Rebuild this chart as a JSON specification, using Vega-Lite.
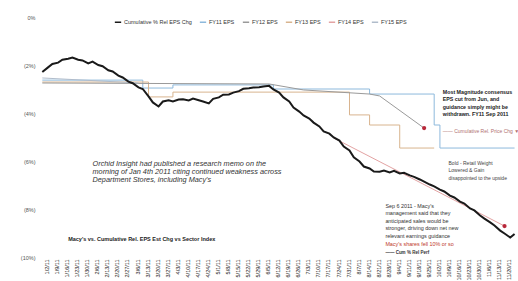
{
  "$schema": "https://vega.github.io/schema/vega-lite/v6.json",
  "width": 478,
  "height": 240,
  "autosize": {"type": "none"},
  "padding": {"left": 38, "top": 17, "right": 2, "bottom": 24},
  "background": "white",
  "config": {
    "view": {"stroke": null},
    "font": "Liberation Sans"
  },
  "datasets": {
    "series": [
      {"date": "2010-12-30", "series": "Cumulative % Rel EPS Chg", "v": -2.29},
      {"date": "2011-01-03", "series": "Cumulative % Rel EPS Chg", "v": -2.10},
      {"date": "2011-01-06", "series": "Cumulative % Rel EPS Chg", "v": -1.96},
      {"date": "2011-01-10", "series": "Cumulative % Rel EPS Chg", "v": -1.90},
      {"date": "2011-01-13", "series": "Cumulative % Rel EPS Chg", "v": -1.78},
      {"date": "2011-01-17", "series": "Cumulative % Rel EPS Chg", "v": -1.74},
      {"date": "2011-01-20", "series": "Cumulative % Rel EPS Chg", "v": -1.69},
      {"date": "2011-01-24", "series": "Cumulative % Rel EPS Chg", "v": -1.78},
      {"date": "2011-01-27", "series": "Cumulative % Rel EPS Chg", "v": -1.81},
      {"date": "2011-01-31", "series": "Cumulative % Rel EPS Chg", "v": -1.93},
      {"date": "2011-02-03", "series": "Cumulative % Rel EPS Chg", "v": -1.86},
      {"date": "2011-02-07", "series": "Cumulative % Rel EPS Chg", "v": -2.00},
      {"date": "2011-02-10", "series": "Cumulative % Rel EPS Chg", "v": -2.05},
      {"date": "2011-02-14", "series": "Cumulative % Rel EPS Chg", "v": -2.22},
      {"date": "2011-02-17", "series": "Cumulative % Rel EPS Chg", "v": -2.27},
      {"date": "2011-02-21", "series": "Cumulative % Rel EPS Chg", "v": -2.44},
      {"date": "2011-02-24", "series": "Cumulative % Rel EPS Chg", "v": -2.52},
      {"date": "2011-02-28", "series": "Cumulative % Rel EPS Chg", "v": -2.69},
      {"date": "2011-03-03", "series": "Cumulative % Rel EPS Chg", "v": -2.76},
      {"date": "2011-03-07", "series": "Cumulative % Rel EPS Chg", "v": -2.93},
      {"date": "2011-03-10", "series": "Cumulative % Rel EPS Chg", "v": -3.00},
      {"date": "2011-03-14", "series": "Cumulative % Rel EPS Chg", "v": -3.31},
      {"date": "2011-03-17", "series": "Cumulative % Rel EPS Chg", "v": -3.56},
      {"date": "2011-03-21", "series": "Cumulative % Rel EPS Chg", "v": -3.73},
      {"date": "2011-03-24", "series": "Cumulative % Rel EPS Chg", "v": -3.52},
      {"date": "2011-03-28", "series": "Cumulative % Rel EPS Chg", "v": -3.47},
      {"date": "2011-03-31", "series": "Cumulative % Rel EPS Chg", "v": -3.52},
      {"date": "2011-04-04", "series": "Cumulative % Rel EPS Chg", "v": -3.44},
      {"date": "2011-04-07", "series": "Cumulative % Rel EPS Chg", "v": -3.43},
      {"date": "2011-04-11", "series": "Cumulative % Rel EPS Chg", "v": -3.48},
      {"date": "2011-04-14", "series": "Cumulative % Rel EPS Chg", "v": -3.40},
      {"date": "2011-04-18", "series": "Cumulative % Rel EPS Chg", "v": -3.47},
      {"date": "2011-04-21", "series": "Cumulative % Rel EPS Chg", "v": -3.52},
      {"date": "2011-04-25", "series": "Cumulative % Rel EPS Chg", "v": -3.60},
      {"date": "2011-04-28", "series": "Cumulative % Rel EPS Chg", "v": -3.41},
      {"date": "2011-05-02", "series": "Cumulative % Rel EPS Chg", "v": -3.35},
      {"date": "2011-05-05", "series": "Cumulative % Rel EPS Chg", "v": -3.24},
      {"date": "2011-05-09", "series": "Cumulative % Rel EPS Chg", "v": -3.23},
      {"date": "2011-05-12", "series": "Cumulative % Rel EPS Chg", "v": -3.15},
      {"date": "2011-05-16", "series": "Cumulative % Rel EPS Chg", "v": -3.09},
      {"date": "2011-05-19", "series": "Cumulative % Rel EPS Chg", "v": -2.99},
      {"date": "2011-05-23", "series": "Cumulative % Rel EPS Chg", "v": -2.97},
      {"date": "2011-05-26", "series": "Cumulative % Rel EPS Chg", "v": -2.94},
      {"date": "2011-05-30", "series": "Cumulative % Rel EPS Chg", "v": -2.93},
      {"date": "2011-06-02", "series": "Cumulative % Rel EPS Chg", "v": -2.90},
      {"date": "2011-06-06", "series": "Cumulative % Rel EPS Chg", "v": -2.87},
      {"date": "2011-06-09", "series": "Cumulative % Rel EPS Chg", "v": -3.02},
      {"date": "2011-06-13", "series": "Cumulative % Rel EPS Chg", "v": -3.15},
      {"date": "2011-06-16", "series": "Cumulative % Rel EPS Chg", "v": -3.35},
      {"date": "2011-06-20", "series": "Cumulative % Rel EPS Chg", "v": -3.52},
      {"date": "2011-06-23", "series": "Cumulative % Rel EPS Chg", "v": -3.77},
      {"date": "2011-06-27", "series": "Cumulative % Rel EPS Chg", "v": -3.94},
      {"date": "2011-06-30", "series": "Cumulative % Rel EPS Chg", "v": -4.10},
      {"date": "2011-07-04", "series": "Cumulative % Rel EPS Chg", "v": -4.23},
      {"date": "2011-07-07", "series": "Cumulative % Rel EPS Chg", "v": -4.40},
      {"date": "2011-07-11", "series": "Cumulative % Rel EPS Chg", "v": -4.56},
      {"date": "2011-07-14", "series": "Cumulative % Rel EPS Chg", "v": -4.77},
      {"date": "2011-07-18", "series": "Cumulative % Rel EPS Chg", "v": -4.86},
      {"date": "2011-07-21", "series": "Cumulative % Rel EPS Chg", "v": -5.02},
      {"date": "2011-07-25", "series": "Cumulative % Rel EPS Chg", "v": -5.15},
      {"date": "2011-07-28", "series": "Cumulative % Rel EPS Chg", "v": -5.40},
      {"date": "2011-08-01", "series": "Cumulative % Rel EPS Chg", "v": -5.56},
      {"date": "2011-08-04", "series": "Cumulative % Rel EPS Chg", "v": -5.85},
      {"date": "2011-08-08", "series": "Cumulative % Rel EPS Chg", "v": -6.02},
      {"date": "2011-08-11", "series": "Cumulative % Rel EPS Chg", "v": -6.23},
      {"date": "2011-08-15", "series": "Cumulative % Rel EPS Chg", "v": -6.31},
      {"date": "2011-08-18", "series": "Cumulative % Rel EPS Chg", "v": -6.44},
      {"date": "2011-08-22", "series": "Cumulative % Rel EPS Chg", "v": -6.45},
      {"date": "2011-08-25", "series": "Cumulative % Rel EPS Chg", "v": -6.40},
      {"date": "2011-08-29", "series": "Cumulative % Rel EPS Chg", "v": -6.48},
      {"date": "2011-09-01", "series": "Cumulative % Rel EPS Chg", "v": -6.41},
      {"date": "2011-09-05", "series": "Cumulative % Rel EPS Chg", "v": -6.52},
      {"date": "2011-09-08", "series": "Cumulative % Rel EPS Chg", "v": -6.49},
      {"date": "2011-09-12", "series": "Cumulative % Rel EPS Chg", "v": -6.60},
      {"date": "2011-09-15", "series": "Cumulative % Rel EPS Chg", "v": -6.66},
      {"date": "2011-09-19", "series": "Cumulative % Rel EPS Chg", "v": -6.77},
      {"date": "2011-09-22", "series": "Cumulative % Rel EPS Chg", "v": -6.86},
      {"date": "2011-09-26", "series": "Cumulative % Rel EPS Chg", "v": -6.98},
      {"date": "2011-09-29", "series": "Cumulative % Rel EPS Chg", "v": -7.06},
      {"date": "2011-10-03", "series": "Cumulative % Rel EPS Chg", "v": -7.19},
      {"date": "2011-10-06", "series": "Cumulative % Rel EPS Chg", "v": -7.27},
      {"date": "2011-10-10", "series": "Cumulative % Rel EPS Chg", "v": -7.44},
      {"date": "2011-10-13", "series": "Cumulative % Rel EPS Chg", "v": -7.52},
      {"date": "2011-10-17", "series": "Cumulative % Rel EPS Chg", "v": -7.69},
      {"date": "2011-10-20", "series": "Cumulative % Rel EPS Chg", "v": -7.77},
      {"date": "2011-10-24", "series": "Cumulative % Rel EPS Chg", "v": -7.98},
      {"date": "2011-10-27", "series": "Cumulative % Rel EPS Chg", "v": -8.06},
      {"date": "2011-10-31", "series": "Cumulative % Rel EPS Chg", "v": -8.27},
      {"date": "2011-11-03", "series": "Cumulative % Rel EPS Chg", "v": -8.40},
      {"date": "2011-11-07", "series": "Cumulative % Rel EPS Chg", "v": -8.56},
      {"date": "2011-11-10", "series": "Cumulative % Rel EPS Chg", "v": -8.69},
      {"date": "2011-11-14", "series": "Cumulative % Rel EPS Chg", "v": -8.90},
      {"date": "2011-11-17", "series": "Cumulative % Rel EPS Chg", "v": -9.02},
      {"date": "2011-11-21", "series": "Cumulative % Rel EPS Chg", "v": -9.19},
      {"date": "2011-11-24", "series": "Cumulative % Rel EPS Chg", "v": -9.04},

      {"date": "2010-12-30", "series": "FY11 EPS", "v": -2.63},
      {"date": "2011-03-10", "series": "FY11 EPS", "v": -2.96},
      {"date": "2011-03-31", "series": "FY11 EPS", "v": -2.83},
      {"date": "2011-06-09", "series": "FY11 EPS", "v": -3.00},
      {"date": "2011-08-15", "series": "FY11 EPS", "v": -3.21},
      {"date": "2011-09-29", "series": "FY11 EPS", "v": -4.50},
      {"date": "2011-10-03", "series": "FY11 EPS", "v": -5.46},
      {"date": "2011-11-24", "series": "FY11 EPS", "v": -5.46},

      {"date": "2010-12-30", "series": "FY12 EPS", "v": -2.75},
      {"date": "2011-06-06", "series": "FY12 EPS", "v": -2.79},
      {"date": "2011-06-30", "series": "FY12 EPS", "v": -3.04},
      {"date": "2011-08-15", "series": "FY12 EPS", "v": -3.21},
      {"date": "2011-08-22", "series": "FY12 EPS", "v": -3.29},
      {"date": "2011-09-22", "series": "FY12 EPS", "v": -4.63},

      {"date": "2010-12-30", "series": "FY13 EPS", "v": -2.71},
      {"date": "2011-03-14", "series": "FY13 EPS", "v": -3.33},
      {"date": "2011-03-31", "series": "FY13 EPS", "v": -3.13},
      {"date": "2011-08-01", "series": "FY13 EPS", "v": -4.08},
      {"date": "2011-08-15", "series": "FY13 EPS", "v": -4.50},
      {"date": "2011-09-05", "series": "FY13 EPS", "v": -5.46},
      {"date": "2011-09-29", "series": "FY13 EPS", "v": -5.46},

      {"date": "2011-07-21", "series": "FY14 EPS", "v": -5.04},
      {"date": "2011-11-17", "series": "FY14 EPS", "v": -8.71},

      {"date": "2010-12-30", "series": "FY15 EPS", "v": -2.54},
      {"date": "2011-03-07", "series": "FY15 EPS", "v": -2.75}
    ],
    "dots": [
      {"date": "2011-09-22", "v": -4.63},
      {"date": "2011-11-17", "v": -8.71}
    ]
  },
  "encoding": {
    "x": {
      "field": "date",
      "type": "temporal",
      "scale": {"type": "utc", "domain": [{"year": 2010, "month": 12, "date": 27, "utc": true}, {"year": 2011, "month": 11, "date": 25, "utc": true}]},
      "axis": {
        "title": null,
        "format": "%-m/%-d/%y",
        "tickCount": {"interval": "week", "step": 1},
        "labelAngle": 270,
        "labelFontSize": 5.5,
        "labelColor": "#222",
        "labelOverlap": false,
        "labelFlush": false,
        "labelPadding": 2,
        "domain": false,
        "ticks": false,
        "grid": false
      }
    },
    "y": {
      "field": "v",
      "type": "quantitative",
      "scale": {"domain": [-10, 0], "nice": false},
      "axis": {
        "title": null,
        "values": [0, -2, -4, -6, -8, -10],
        "labelExpr": "datum.value == 0 ? '0%' : '(' + abs(datum.value) + '%)'",
        "labelFontSize": 5.5,
        "labelColor": "#555",
        "labelPadding": 3,
        "domain": false,
        "ticks": false,
        "grid": false
      }
    }
  },
  "layer": [
    {
      "data": {"name": "series"},
      "transform": [{"filter": "datum.series == 'FY11 EPS' || datum.series == 'FY13 EPS'"}],
      "mark": {"type": "line", "interpolate": "step-after", "strokeWidth": 1},
      "encoding": {
        "color": {
          "field": "series",
          "type": "nominal",
          "scale": {
            "domain": ["Cumulative % Rel EPS Chg", "FY11 EPS", "FY12 EPS", "FY13 EPS", "FY14 EPS", "FY15 EPS"],
            "range": ["#1a1a1a", "#8db9dc", "#9a9a9a", "#d8b48e", "#e3a3a3", "#b0bccb"]
          },
          "legend": {
            "title": null,
            "orient": "none",
            "legendX": 76,
            "legendY": 1,
            "direction": "horizontal",
            "columns": 6,
            "symbolType": "stroke",
            "symbolSize": 40,
            "symbolStrokeWidth": 1.5,
            "labelFontSize": 5.5,
            "labelColor": "#333",
            "columnPadding": 4,
            "labelOffset": 2
          }
        }
      }
    },
    {
      "data": {"name": "series"},
      "transform": [{"filter": "datum.series == 'FY12 EPS' || datum.series == 'FY14 EPS' || datum.series == 'FY15 EPS'"}],
      "mark": {"type": "line", "strokeWidth": 1},
      "encoding": {"color": {"field": "series", "type": "nominal"}}
    },
    {
      "data": {"name": "series"},
      "transform": [{"filter": "datum.series == 'Cumulative % Rel EPS Chg'"}],
      "mark": {"type": "line", "strokeWidth": 2},
      "encoding": {"color": {"field": "series", "type": "nominal"}}
    },
    {
      "data": {"name": "dots"},
      "mark": {"type": "circle", "color": "#b8283a", "size": 18, "opacity": 1},
      "encoding": {}
    },
    {
      "data": {"values": [{"date": "2011-02-03", "v": -5.96, "text": "Orchid Insight had published a research memo on the\nmorning of Jan 4th 2011 citing continued weakness across\nDepartment Stores, including Macy's"}]},
      "mark": {"type": "text", "align": "left", "baseline": "top", "fontStyle": "italic", "fontSize": 7.3, "lineHeight": 8.2, "lineBreak": "\n", "color": "#333"},
      "encoding": {"text": {"field": "text"}}
    },
    {
      "data": {"values": [{"date": "2011-01-17", "v": -9.25, "text": "Macy's vs. Cumulative Rel. EPS Est Chg vs Sector Index"}]},
      "mark": {"type": "text", "align": "left", "baseline": "middle", "fontWeight": "bold", "fontSize": 5.5, "color": "#222"},
      "encoding": {"text": {"field": "text"}}
    },
    {
      "data": {"values": [{"date": "2011-10-05", "v": -3.04, "text": "Most Magnitude consensus\nEPS cut from Jun, and\nguidance simply might be\nwithdrawn. FY11 Sep 2011"}]},
      "mark": {"type": "text", "align": "left", "baseline": "top", "fontWeight": "bold", "fontSize": 5.3, "lineHeight": 7.4, "lineBreak": "\n", "color": "#222"},
      "encoding": {"text": {"field": "text"}}
    },
    {
      "data": {"values": [{"date": "2011-10-05", "v": -4.75, "text": "—— Cumulative Rel. Price Chg ▼"}]},
      "mark": {"type": "text", "align": "left", "baseline": "middle", "fontSize": 5, "color": "#b07070"},
      "encoding": {"text": {"field": "text"}}
    },
    {
      "data": {"values": [{"date": "2011-10-09", "v": -6.0, "text": "Bold - Retail Weight\nLowered & Gain\ndisappointed to the upside"}]},
      "mark": {"type": "text", "align": "left", "baseline": "top", "fontSize": 5, "lineHeight": 7.3, "lineBreak": "\n", "color": "#444"},
      "encoding": {"text": {"field": "text"}}
    },
    {
      "data": {"values": [{"date": "2011-08-26", "v": -7.79, "text": "Sep 6 2011 - Macy's\nmanagement said that they\nanticipated sales would be\nstronger, driving down net new\nrelevant earnings guidance"}]},
      "mark": {"type": "text", "align": "left", "baseline": "top", "fontSize": 5.4, "lineHeight": 7.4, "lineBreak": "\n", "color": "#333"},
      "encoding": {"text": {"field": "text"}}
    },
    {
      "data": {"values": [{"date": "2011-08-26", "v": -9.46, "text": "Macy's shares fell 10% or so"}]},
      "mark": {"type": "text", "align": "left", "baseline": "middle", "fontSize": 5.4, "color": "#c0392b"},
      "encoding": {"text": {"field": "text"}}
    },
    {
      "data": {"values": [{"date": "2011-08-26", "v": -9.83, "text": "—— Cum % Rel Perf"}]},
      "mark": {"type": "text", "align": "left", "baseline": "middle", "fontSize": 4.5, "fontWeight": "bold", "color": "#333"},
      "encoding": {"text": {"field": "text"}}
    }
  ]
}
